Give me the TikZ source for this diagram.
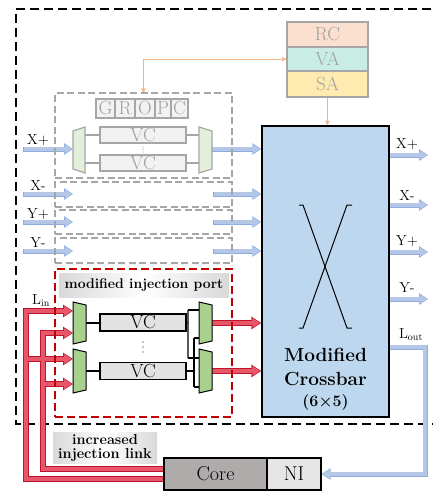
\documentclass[tikz,border=0pt]{standalone}
\usetikzlibrary{arrows.meta}
\definecolor{rcC}{HTML}{FBE0CF}
\definecolor{vaC}{HTML}{C9EDE4}
\definecolor{saC}{HTML}{FFEBB0}
\definecolor{boxgray}{HTML}{A6A6A6}
\definecolor{txtgray}{HTML}{A0A0A0}
\definecolor{xbarC}{HTML}{BDD7EE}
\definecolor{bfillC}{HTML}{B4C7E7}
\definecolor{bedgeC}{HTML}{8FAADC}
\definecolor{rfillC}{HTML}{E8566A}
\definecolor{redgeC}{HTML}{C0142E}
\definecolor{orangeC}{HTML}{F4B183}
\definecolor{paleG}{HTML}{E2EFDA}
\definecolor{midG}{HTML}{A9D18E}
\definecolor{vcgray}{HTML}{F2F2F2}
\definecolor{vcdark}{HTML}{E2E2E2}
\definecolor{coreC}{HTML}{AFABAB}
\definecolor{niC}{HTML}{E7E6E6}
\definecolor{redDash}{HTML}{C00000}
\newcommand\blueArrow[1]{\draw[bedge] #1;\draw[bfill] #1;}
\begin{document}
\begin{tikzpicture}[x=1pt,y=-1pt,
  stage/.style={draw=boxgray, line width=1.2pt, minimum width=81pt, inner sep=0pt, text=txtgray, font=\fontsize{19}{19}\selectfont},
  gcell/.style={draw=boxgray, line width=1.2pt, fill=vcgray, inner sep=0pt, minimum height=19pt, text=txtgray, font=\fontsize{19}{19}\selectfont},
  vcgrey/.style={draw=boxgray, line width=1.2pt, fill=vcgray, inner sep=0pt, minimum width=86pt, minimum height=16pt, text=txtgray, font=\fontsize{19}{19}\selectfont},
  vcblack/.style={draw=black, line width=1.1pt, fill=vcdark, inner sep=0pt, minimum width=86pt, minimum height=17pt, font=\fontsize{19}{19}\selectfont},
  gdash/.style={draw=boxgray, line width=1.2pt, dash pattern=on 7pt off 3.5pt, inner sep=0pt},
  rdash/.style={draw=redDash, line width=1.2pt, dash pattern=on 8pt off 4pt, inner sep=0pt},
  lab/.style={font=\fontsize{14.5}{14.5}\selectfont, anchor=base, inner sep=0pt},
  bedge/.style={draw=bedgeC, line width=5pt, -{Triangle[length=9pt,width=11pt]}},
  bfill/.style={draw=bfillC, line width=3.4pt, shorten >=1pt, shorten <=0.8pt, -{Triangle[length=7.2pt,width=8.4pt]}},
  redge/.style={draw=redgeC, line width=6.5pt, -{Triangle[length=10pt,width=12pt]}},
  rfill/.style={draw=rfillC, line width=4.5pt, shorten >=1.1pt, -{Triangle[length=8pt,width=9.4pt]}},
  paletrap/.style={fill=paleG, draw=boxgray, line width=1.2pt},
  greentrap/.style={fill=midG, draw=black, line width=1pt},
  wire/.style={line width=1.1pt},
  orangeline/.style={draw=orangeC, line width=1pt},
  otip/.style={-{Stealth[length=5pt,width=5pt]}},
  shadelab/.style={inner sep=0pt, left color=gray!30, right color=gray!30, middle color=white, font=\bfseries\fontsize{14}{14}\selectfont, align=center}
]
\useasboundingbox (0,0) rectangle (433,491);

% outer router boundary
\draw[line width=1.3pt, dash pattern=on 9pt off 5pt] (445,9) -- (16,9) -- (16,424) -- (445,424);

% dashed input unit boxes (nodes for names)
\path (143.5,135.5) node[minimum width=177pt, minimum height=85pt, inner sep=0pt] (gbox) {};

% pipeline stages
\node[stage, fill=rcC, minimum height=25pt] (rc) at (327.5,34.5) {RC};
\node[stage, fill=vaC, minimum height=24pt] (va) at (327.5,59) {VA};
\node[stage, fill=saC, minimum height=26pt] (sa) at (327.5,84) {SA};

% crossbar
\node[draw=black, line width=1.3pt, fill=xbarC, minimum width=127pt, minimum height=291pt, inner sep=0pt] (xbar) at (325.5,271.5) {};
\draw[line width=1pt] (299,205) -- (303,205) -- (347,328) -- (352,328);
\draw[line width=1pt] (352,205) -- (347,205) -- (303,328) -- (299,328);
\node[anchor=base, inner sep=0pt, font=\bfseries\fontsize{19}{19}\selectfont] (xt1) at (325.5,361) {Modified};
\node[anchor=base, inner sep=0pt, font=\bfseries\fontsize{19}{19}\selectfont] (xt2) at (325.5,385) {Crossbar};
\node[anchor=base, inner sep=0pt, font=\bfseries\fontsize{16}{16}\selectfont] (xt3) at (325.5,406) {(6×5)};

% orange control lines
\draw[orangeline, {Stealth[length=5pt,width=5pt]}-{Stealth[length=5pt,width=5pt]}] (va.west) -- (va.west -| gbox.north) -- (gbox.north);
\draw[orangeline, otip] (sa.south) -- (sa.south |- xbar.north);

% core / NI
\node[draw=black, line width=1.1pt, fill=coreC, minimum width=103pt, minimum height=32pt, inner sep=0pt, font=\fontsize{20}{20}\selectfont] (core) at (215.5,474) {Core};
\node[draw=black, line width=1.1pt, fill=niC, minimum width=54pt, minimum height=32pt, inner sep=0pt, font=\fontsize{20}{20}\selectfont] (ni) at (294,474) {NI};

% coordinates
\coordinate (m1i) at (73,149);
\coordinate (m1a) at (85,135);
\coordinate (m1b) at (85,163);
\coordinate (m2a) at (199,135);
\coordinate (m2b) at (199,163);
\coordinate (m2o) at (212,149);
\coordinate (in1) at (23,149);
\coordinate (in2) at (23,194); \coordinate (e2) at (73,194); \coordinate (o2) at (213,194);
\coordinate (in3) at (23,222); \coordinate (e3) at (73,222); \coordinate (o3) at (213,222);
\coordinate (in4) at (23,251); \coordinate (e4) at (73,251); \coordinate (o4) at (213,251);
\coordinate (r1) at (428,155);
\coordinate (r2) at (428,205);
\coordinate (r3) at (428,252);
\coordinate (r4) at (428,299);
\coordinate (lo) at (425,347);
\coordinate (mAo) at (86,323);
\coordinate (mBo) at (86,371);
\coordinate (mAi1) at (73,311);
\coordinate (mAi2) at (73,333);
\coordinate (mBi1) at (73,359);
\coordinate (mBi2) at (73,384);
\coordinate (mCi1) at (199,310);
\coordinate (mCi2) at (199,338);
\coordinate (mDi1) at (199,358);
\coordinate (mDi2) at (199,387);
\coordinate (mCo) at (212,323);
\coordinate (mDo) at (212,371);
\coordinate (ro) at (26,479);
\coordinate (ri) at (43,469);

% blue arrows
\blueArrow{(in1) -- (m1i)}
\blueArrow{(in2) -- (e2)}
\blueArrow{(in3) -- (e3)}
\blueArrow{(in4) -- (e4)}
\blueArrow{(m2o) -- (m2o -| xbar.west)}
\blueArrow{(o2) -- (o2 -| xbar.west)}
\blueArrow{(o3) -- (o3 -| xbar.west)}
\blueArrow{(o4) -- (o4 -| xbar.west)}
\blueArrow{(r1 -| xbar.east) -- (r1)}
\blueArrow{(r2 -| xbar.east) -- (r2)}
\blueArrow{(r3 -| xbar.east) -- (r3)}
\blueArrow{(r4 -| xbar.east) -- (r4)}
\blueArrow{(lo -| xbar.east) -- (lo) -- (lo |- ni.east) -- (ni.east)}

% red injection links
\draw[redge] (ro -| core.west) -- (ro) -- (ro |- mAi1) -- (mAi1);
\draw[redge] (ri -| core.west) -- (ri) -- (ri |- mAi2) -- (mAi2);
\draw[redge] (ro |- mBi1) -- (mBi1);
\draw[redge] (ri |- mBi2) -- (mBi2);
\draw[redge] (mCo) -- (mCo -| xbar.west);
\draw[redge] (mDo) -- (mDo -| xbar.west);
\draw[rfill] (ro -| core.west) -- (ro) -- (ro |- mAi1) -- (mAi1);
\draw[rfill] (ri -| core.west) -- (ri) -- (ri |- mAi2) -- (mAi2);
\draw[rfill] (ro |- mBi1) -- (mBi1);
\draw[rfill] (ri |- mBi2) -- (mBi2);
\draw[rfill] (mCo) -- (mCo -| xbar.west);
\draw[rfill] (mDo) -- (mDo -| xbar.west);
\node[draw=black, line width=1.1pt, fill=coreC, minimum width=103pt, minimum height=32pt, inner sep=0pt, font=\fontsize{20}{20}\selectfont] at (core) {Core};

% top input unit (gray)
\node[gcell, minimum width=19pt] (cg) at (105.5,108.5) {G};
\node[gcell, minimum width=20pt] (cr) at (125,108.5) {R};
\node[gcell, minimum width=20pt] (co) at (145,108.5) {O};
\node[gcell, minimum width=16pt] (cp) at (163,108.5) {P};
\node[gcell, minimum width=17pt] (cc) at (179.5,108.5) {C};
\node[vcgrey] (vt1) at (143,135) {VC};
\node[vcgrey] (vt2) at (143,163) {VC};
\draw[boxgray, wire] (m1a) -- (vt1.west);
\draw[boxgray, wire] (m1b) -- (vt2.west);
\draw[boxgray, wire] (vt1.east) -- (m2a);
\draw[boxgray, wire] (vt2.east) -- (m2b);
\draw[paletrap] (73,131) -- (85,127) -- (85,173) -- (73,169) -- cycle;
\draw[paletrap] (199,127) -- (212,131) -- (212,169) -- (199,173) -- cycle;
\foreach \yy in {147,149.5,152} \fill[txtgray] (143,\yy) circle (0.55pt);

% injection port
\node[vcblack] (vi1) at (143,322.5) {VC};
\node[vcblack] (vi2) at (143,371) {VC};
\draw[wire] (mAo) -- (mAo -| vi1.west);
\draw[wire] (mBo) -- (mBo -| vi2.west);
\draw[wire] (vi1.east) -- (188,323) (188,310) -- (188,358);
\draw[wire] (188,310) -- (mCi1);
\draw[wire] (188,358) -- (mDi1);
\draw[wire] (vi2.east) -- (194,371) (194,338) -- (194,387);
\draw[wire] (194,338) -- (mCi2);
\draw[wire] (194,387) -- (mDi2);
\draw[greentrap] (73,302) -- (86,305) -- (86,341) -- (73,344) -- cycle;
\draw[greentrap] (73,349) -- (86,352) -- (86,390) -- (73,393) -- cycle;
\draw[greentrap] (199,302) -- (212,305) -- (212,341) -- (199,344) -- cycle;
\draw[greentrap] (199,349) -- (212,352) -- (212,390) -- (199,393) -- cycle;
\foreach \yy in {342,347,352} \fill (143,\yy) circle (0.65pt);

% dashed boxes
\node[gdash, minimum width=177pt, minimum height=85pt] at (gbox) {};
\node[gdash, minimum width=177pt, minimum height=25pt] (gb2) at (143.5,194.5) {};
\node[gdash, minimum width=177pt, minimum height=24pt] (gb3) at (143.5,222) {};
\node[gdash, minimum width=177pt, minimum height=25pt] (gb4) at (143.5,250.5) {};
\node[rdash, minimum width=177pt, minimum height=148pt] (ibox) at (143.5,343) {};

% shaded labels
\node[shadelab, minimum width=170pt, minimum height=24pt] (ilab) at (144,285) {modified injection port};
\node[shadelab, minimum width=104pt, minimum height=31pt, font=\bfseries\fontsize{14.5}{14}\selectfont] (llab) at (105,447.5) {increased\\injection link};

% port labels
\node[lab] (lxp) at (38,144) {X+};
\node[lab] (lxm) at (38,190) {X-};
\node[lab] (lyp) at (38,218) {Y+};
\node[lab] (lym) at (38,247) {Y-};
\node[lab] (lin) at (41,304) {L$_{\mathrm{in}}$};
\node[lab] (rxp) at (407,148) {X+};
\node[lab] (rxm) at (407,200) {X-};
\node[lab] (ryp) at (407,245) {Y+};
\node[lab] (rym) at (407,292) {Y-};
\node[lab] (lout) at (411,338) {L$_{\mathrm{out}}$};
\end{tikzpicture}
\end{document}
